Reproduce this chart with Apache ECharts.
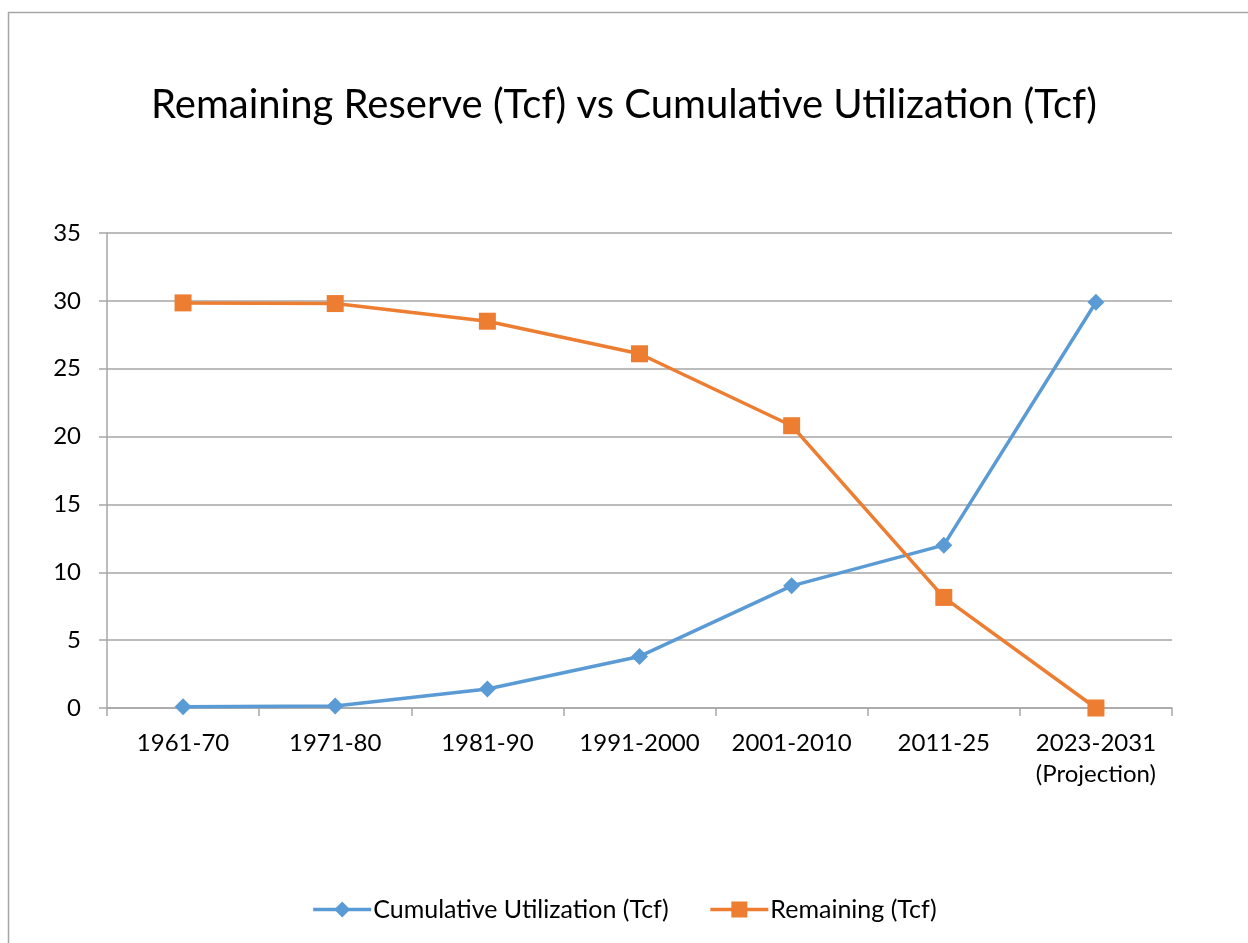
<!DOCTYPE html>
<html><head><meta charset="utf-8">
<script src="https://cdn.jsdelivr.net/npm/echarts@6/dist/echarts.min.js"></script>
<style>html,body{margin:0;padding:0;background:#fff}#c{width:1248px;height:943px}</style>
</head><body><div id="c"></div>
<script>
const categories = ['1961-70','1971-80','1981-90','1991-2000','2001-2010','2011-25','2023-2031\n(Projection)'];
const cumulativeUtilization = [0.1, 0.15, 1.4, 3.8, 9.0, 12.0, 29.9];
const remaining = [29.85, 29.8, 28.5, 26.1, 20.8, 8.15, 0];
const yTicks = {min: 0, max: 35, interval: 5};
const FONT = 'Lato';
const chart = echarts.init(document.getElementById('c'));
chart.setOption({
  animation: false,
  backgroundColor: '#fff',
  graphic: [{type:'rect', shape:{x:8.5,y:12.5,width:1260,height:960}, style:{fill:null, stroke:'#a6a6a6', lineWidth:1.5}, silent:true}],
  title: {text:'Remaining Reserve (Tcf) vs Cumulative Utilization (Tcf)', left:'center', top:80,
    textStyle:{fontFamily:FONT, fontSize:40, fontWeight:'normal', color:'#000'}},
  grid: {left:107, right:76, top:233, bottom:235, containLabel:false},
  legend: {bottom:16, left:'center', itemGap:40, itemWidth:58, itemHeight:20,
    lineStyle:{width:3.5},
    textStyle:{fontFamily:FONT, fontSize:25, color:'#000', padding:[0,0,0,-3]},
    data:['Cumulative Utilization (Tcf)','Remaining (Tcf)']},
  xAxis: {type:'category', data:categories, boundaryGap:true,
    axisLine:{lineStyle:{color:'#a6a6a6', width:1.5}},
    axisTick:{show:true, length:8, lineStyle:{color:'#a6a6a6', width:1.5}},
    axisLabel:{fontFamily:FONT, fontSize:24, color:'#000', margin:20, lineHeight:31, interval:0}},
  yAxis: {type:'value', min:yTicks.min, max:yTicks.max, interval:yTicks.interval,
    axisLine:{show:true, lineStyle:{color:'#a6a6a6', width:1.5}},
    axisTick:{show:true, length:8, lineStyle:{color:'#a6a6a6', width:1.5}},
    splitLine:{lineStyle:{color:'#a6a6a6', width:1.5}},
    axisLabel:{fontFamily:FONT, fontSize:24, color:'#000', margin:26}},
  series: [
    {name:'Cumulative Utilization (Tcf)', type:'line', data:cumulativeUtilization,
      symbol:'diamond', symbolSize:17, color:'#5b9bd5',
      lineStyle:{width:3.5, color:'#5b9bd5'}, itemStyle:{color:'#5b9bd5'}},
    {name:'Remaining (Tcf)', type:'line', data:remaining,
      symbol:'rect', symbolSize:17, color:'#ed7d31',
      lineStyle:{width:3.5, color:'#ed7d31'}, itemStyle:{color:'#ed7d31'}}
  ]
});
</script></body></html>
